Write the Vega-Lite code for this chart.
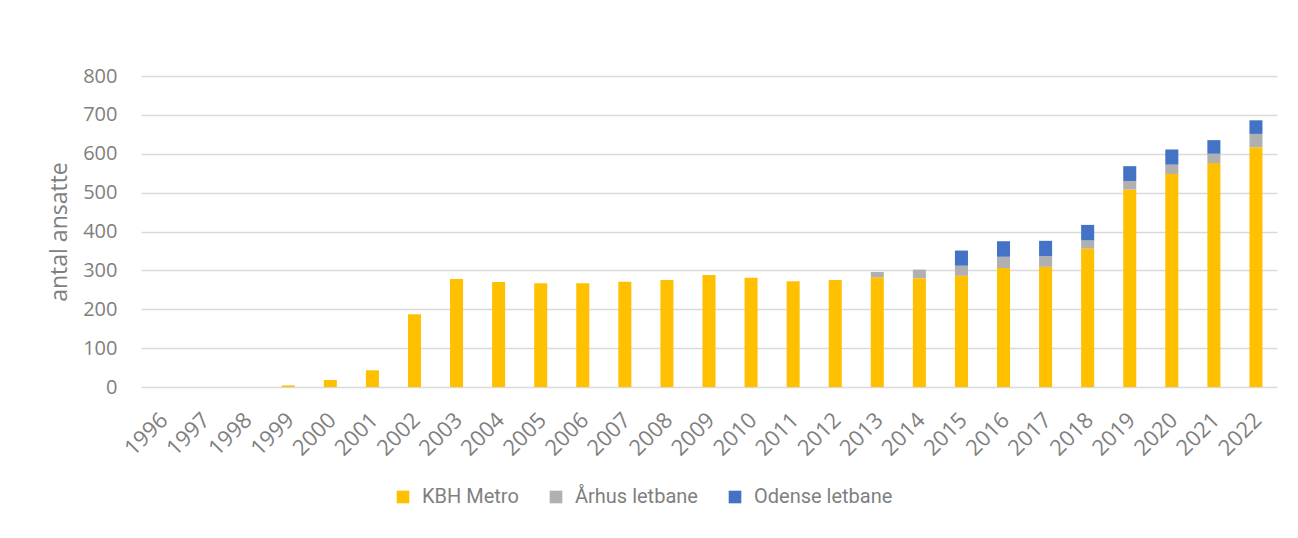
{
  "$schema": "https://vega.github.io/schema/vega-lite/v6.json",
  "width": 1136,
  "height": 311,
  "autosize": {"type": "none"},
  "padding": {"left": 141, "top": 76, "right": 21, "bottom": 151},
  "background": "#ffffff",
  "data": {
    "values": [
      {"year": "1996", "serie": "KBH Metro", "antal": 0, "o": 1},
      {"year": "1997", "serie": "KBH Metro", "antal": 0, "o": 1},
      {"year": "1998", "serie": "KBH Metro", "antal": 0, "o": 1},
      {"year": "1999", "serie": "KBH Metro", "antal": 4, "o": 1},
      {"year": "2000", "serie": "KBH Metro", "antal": 18, "o": 1},
      {"year": "2001", "serie": "KBH Metro", "antal": 43, "o": 1},
      {"year": "2002", "serie": "KBH Metro", "antal": 187, "o": 1},
      {"year": "2003", "serie": "KBH Metro", "antal": 278, "o": 1},
      {"year": "2004", "serie": "KBH Metro", "antal": 270, "o": 1},
      {"year": "2005", "serie": "KBH Metro", "antal": 267, "o": 1},
      {"year": "2006", "serie": "KBH Metro", "antal": 267, "o": 1},
      {"year": "2007", "serie": "KBH Metro", "antal": 271, "o": 1},
      {"year": "2008", "serie": "KBH Metro", "antal": 275, "o": 1},
      {"year": "2009", "serie": "KBH Metro", "antal": 288, "o": 1},
      {"year": "2010", "serie": "KBH Metro", "antal": 281, "o": 1},
      {"year": "2011", "serie": "KBH Metro", "antal": 272, "o": 1},
      {"year": "2012", "serie": "KBH Metro", "antal": 275, "o": 1},
      {"year": "2013", "serie": "KBH Metro", "antal": 282, "o": 1},
      {"year": "2014", "serie": "KBH Metro", "antal": 280, "o": 1},
      {"year": "2015", "serie": "KBH Metro", "antal": 286, "o": 1},
      {"year": "2016", "serie": "KBH Metro", "antal": 306, "o": 1},
      {"year": "2017", "serie": "KBH Metro", "antal": 309, "o": 1},
      {"year": "2018", "serie": "KBH Metro", "antal": 356, "o": 1},
      {"year": "2019", "serie": "KBH Metro", "antal": 508, "o": 1},
      {"year": "2020", "serie": "KBH Metro", "antal": 548, "o": 1},
      {"year": "2021", "serie": "KBH Metro", "antal": 576, "o": 1},
      {"year": "2022", "serie": "KBH Metro", "antal": 617, "o": 1},
      {"year": "2013", "serie": "Århus letbane", "antal": 14, "o": 2},
      {"year": "2014", "serie": "Århus letbane", "antal": 22, "o": 2},
      {"year": "2015", "serie": "Århus letbane", "antal": 26, "o": 2},
      {"year": "2016", "serie": "Århus letbane", "antal": 29, "o": 2},
      {"year": "2017", "serie": "Århus letbane", "antal": 28, "o": 2},
      {"year": "2018", "serie": "Århus letbane", "antal": 21, "o": 2},
      {"year": "2019", "serie": "Århus letbane", "antal": 22, "o": 2},
      {"year": "2020", "serie": "Århus letbane", "antal": 24, "o": 2},
      {"year": "2021", "serie": "Århus letbane", "antal": 24, "o": 2},
      {"year": "2022", "serie": "Århus letbane", "antal": 34, "o": 2},
      {"year": "2015", "serie": "Odense letbane", "antal": 39, "o": 3},
      {"year": "2016", "serie": "Odense letbane", "antal": 40, "o": 3},
      {"year": "2017", "serie": "Odense letbane", "antal": 39, "o": 3},
      {"year": "2018", "serie": "Odense letbane", "antal": 40, "o": 3},
      {"year": "2019", "serie": "Odense letbane", "antal": 38, "o": 3},
      {"year": "2020", "serie": "Odense letbane", "antal": 39, "o": 3},
      {"year": "2021", "serie": "Odense letbane", "antal": 35, "o": 3},
      {"year": "2022", "serie": "Odense letbane", "antal": 35, "o": 3}
    ]
  },
  "mark": {"type": "bar"},
  "encoding": {
    "x": {
      "field": "year",
      "type": "ordinal",
      "sort": null,
      "scale": {"paddingInner": 0.69, "paddingOuter": 0.345},
      "axis": {
        "title": null,
        "labelAngle": -45,
        "labelFont": "Open Sans",
        "labelFontSize": 22,
        "labelColor": "#7f7f7f",
        "labelPadding": 22,
        "labelOffset": -5,
        "ticks": false,
        "domain": false,
        "grid": false
      }
    },
    "y": {
      "field": "antal",
      "type": "quantitative",
      "stack": "zero",
      "scale": {"domain": [0, 800], "nice": false},
      "axis": {
        "title": "antal ansatte",
        "titleFont": "Open Sans",
        "titleFontSize": 23,
        "titleFontWeight": "normal",
        "titleColor": "#7f7f7f",
        "titlePadding": 11,
        "values": [0, 100, 200, 300, 400, 500, 600, 700, 800],
        "labelFont": "Open Sans",
        "labelFontSize": 20,
        "labelColor": "#7f7f7f",
        "labelPadding": 24,
        "ticks": false,
        "domain": false,
        "grid": true,
        "gridColor": "#d9d9d9",
        "gridWidth": 1.5
      }
    },
    "color": {
      "field": "serie",
      "type": "nominal",
      "sort": ["KBH Metro", "Århus letbane", "Odense letbane"],
      "scale": {
        "domain": ["KBH Metro", "Århus letbane", "Odense letbane"],
        "range": ["#ffc000", "#b0b0b0", "#4472c4"]
      },
      "legend": {
        "title": null,
        "orient": "none",
        "direction": "horizontal",
        "legendX": 252,
        "legendY": 411,
        "symbolType": "square",
        "symbolSize": 160,
        "symbolStrokeWidth": 0,
        "labelFont": "Roboto",
        "labelFontSize": 20,
        "labelColor": "#7f7f7f",
        "labelOffset": 9,
        "columnPadding": 27
      }
    },
    "order": {"field": "o", "type": "quantitative"}
  },
  "config": {
    "view": {"stroke": null}
  }
}
